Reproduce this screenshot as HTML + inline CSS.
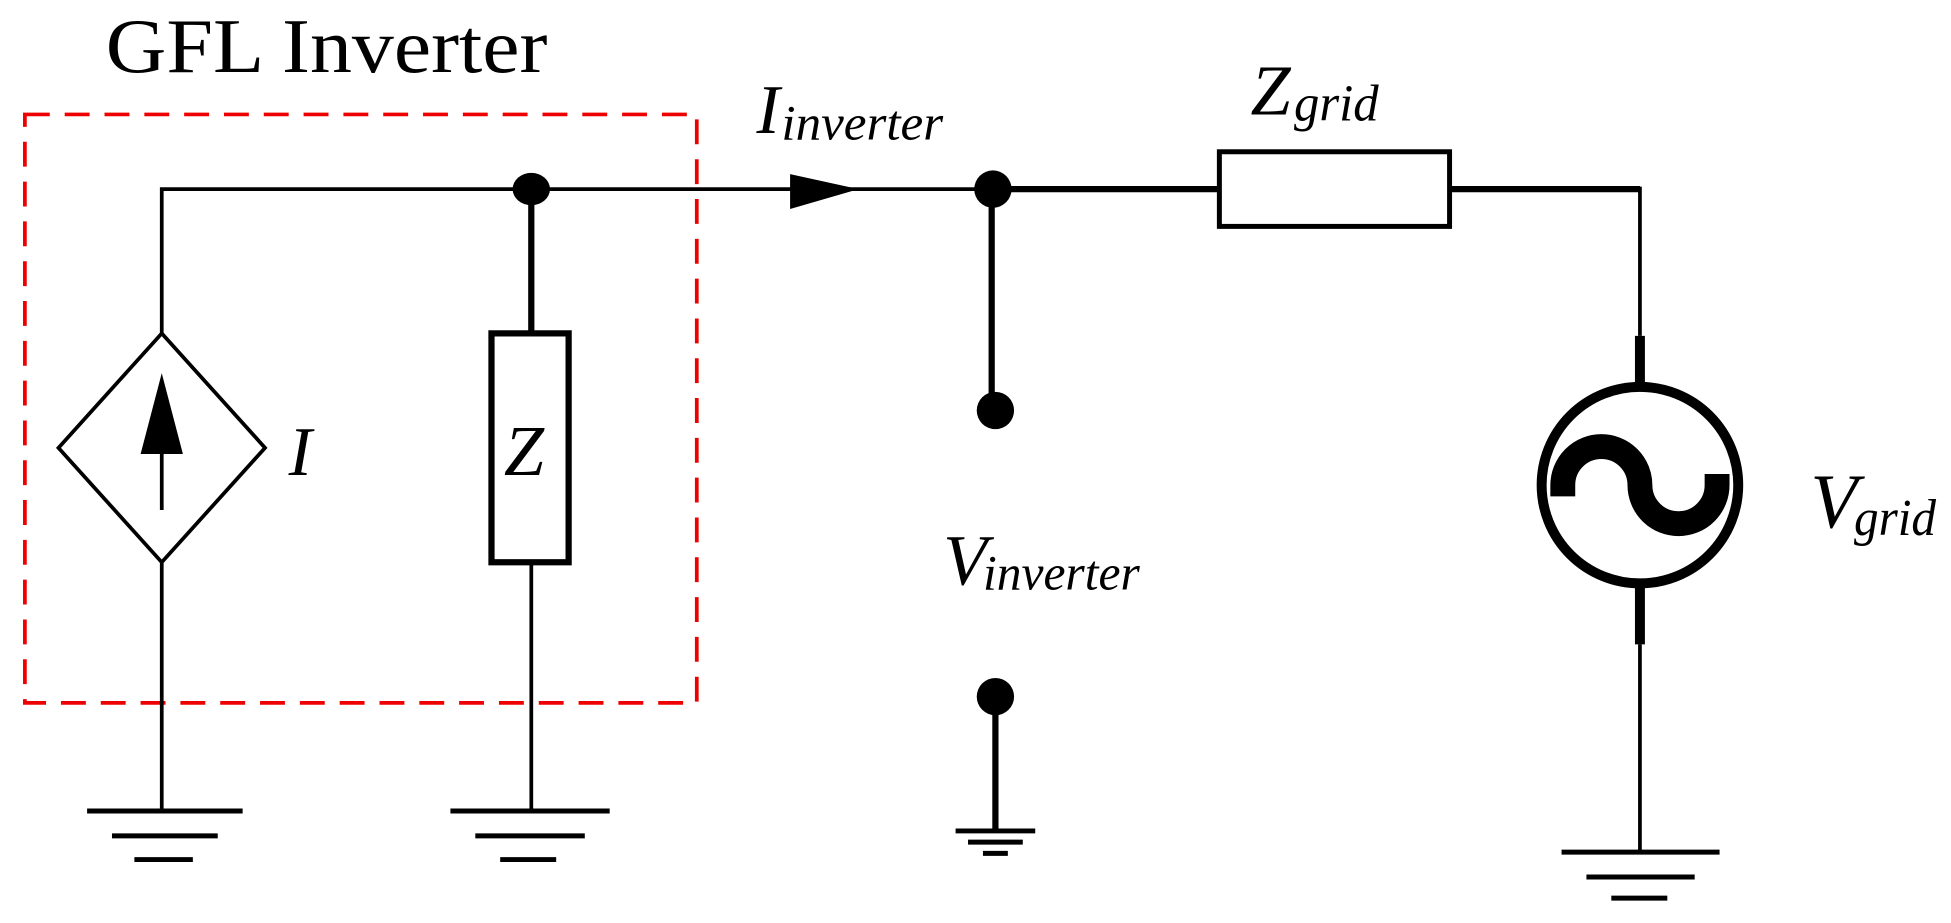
<!DOCTYPE html>
<html><head><style>html,body{margin:0;padding:0;background:#fff;}svg{display:block}</style></head>
<body>
<svg width="1951" height="923" viewBox="0 0 1568 742" preserveAspectRatio="none" xmlns="http://www.w3.org/2000/svg" font-family="'Liberation Serif', serif">
<rect x="0" y="0" width="1568" height="742" fill="#fff"/>
<text x="85" y="58" font-size="62" textLength="355" lengthAdjust="spacingAndGlyphs">GFL Inverter</text>
<rect x="20" y="92" width="540" height="473" fill="none" stroke="#e00" stroke-width="3" stroke-dasharray="20,12"/>
<g stroke="#000" fill="none">
<polyline points="130,268 130,152 795,152" stroke-width="3"/>
<line x1="795" y1="152" x2="980" y2="152" stroke-width="5"/>
<line x1="1165" y1="152" x2="1318" y2="152" stroke-width="5"/>
<line x1="1318" y1="150" x2="1318" y2="270" stroke-width="3"/>
<line x1="1318" y1="270" x2="1318" y2="312" stroke-width="8"/>
<line x1="1318" y1="468" x2="1318" y2="518" stroke-width="8"/>
<line x1="1318" y1="518" x2="1318" y2="685" stroke-width="3"/>
<circle cx="1318" cy="390" r="79" stroke-width="8"/>
<path d="M1256 399 V390 A31 31 0 0 1 1318 390 A31 31 0 0 0 1380 390 V381" stroke-width="20"/>
<rect x="980" y="122" width="185" height="60" stroke-width="4"/>
<polygon points="130,268 213,360 130,452 47,360" stroke-width="3"/>
<line x1="130" y1="452" x2="130" y2="652" stroke-width="3"/>
<line x1="130" y1="410" x2="130" y2="355" stroke-width="3"/>
<line x1="427" y1="152" x2="427" y2="268" stroke-width="5"/>
<rect x="395" y="268" width="62" height="184" stroke-width="5"/>
<line x1="427" y1="452" x2="427" y2="652" stroke-width="3"/>
<line x1="797" y1="152" x2="797" y2="330" stroke-width="5"/>
<line x1="800" y1="560" x2="800" y2="666" stroke-width="5"/>
<g stroke-width="4">
<line x1="70" y1="652" x2="195" y2="652"/><line x1="90" y1="672" x2="175" y2="672"/><line x1="108" y1="691" x2="155" y2="691"/>
<line x1="362" y1="652" x2="490" y2="652"/><line x1="382" y1="672" x2="470" y2="672"/><line x1="402" y1="691" x2="447" y2="691"/>
<line x1="1255" y1="685" x2="1382" y2="685"/><line x1="1275" y1="705" x2="1362" y2="705"/><line x1="1295" y1="722" x2="1340" y2="722"/>
<line x1="768" y1="668" x2="832" y2="668"/><line x1="778" y1="677" x2="822" y2="677"/><line x1="790" y1="686" x2="810" y2="686"/>
</g>
</g>
<polygon points="113,365 130,300 147,365" fill="#000"/>
<polygon points="635,140 690,152 635,168" fill="#000"/>
<ellipse cx="427" cy="152" rx="15" ry="13" fill="#000"/>
<ellipse cx="798" cy="152" rx="15" ry="15" fill="#000"/>
<ellipse cx="800" cy="330" rx="15" ry="15" fill="#000"/>
<ellipse cx="800" cy="560" rx="15" ry="15" fill="#000"/>
<g font-style="italic" fill="#000">
<text x="232" y="382" font-size="56">I</text>
<text x="405" y="382" font-size="58">Z</text>
<text x="608" y="107" font-size="56">I</text>
<text x="628" y="112" font-size="40" textLength="130" lengthAdjust="spacingAndGlyphs">inverter</text>
<text x="1005" y="92" font-size="58">Z</text>
<text x="1040" y="97" font-size="42" textLength="68" lengthAdjust="spacingAndGlyphs">grid</text>
<text x="758" y="470" font-size="58">V</text>
<text x="790" y="474" font-size="40" textLength="126" lengthAdjust="spacingAndGlyphs">inverter</text>
<text x="1455" y="424" font-size="62">V</text>
<text x="1490" y="430" font-size="42" textLength="66" lengthAdjust="spacingAndGlyphs">grid</text>
</g>
</svg>
</body></html>
